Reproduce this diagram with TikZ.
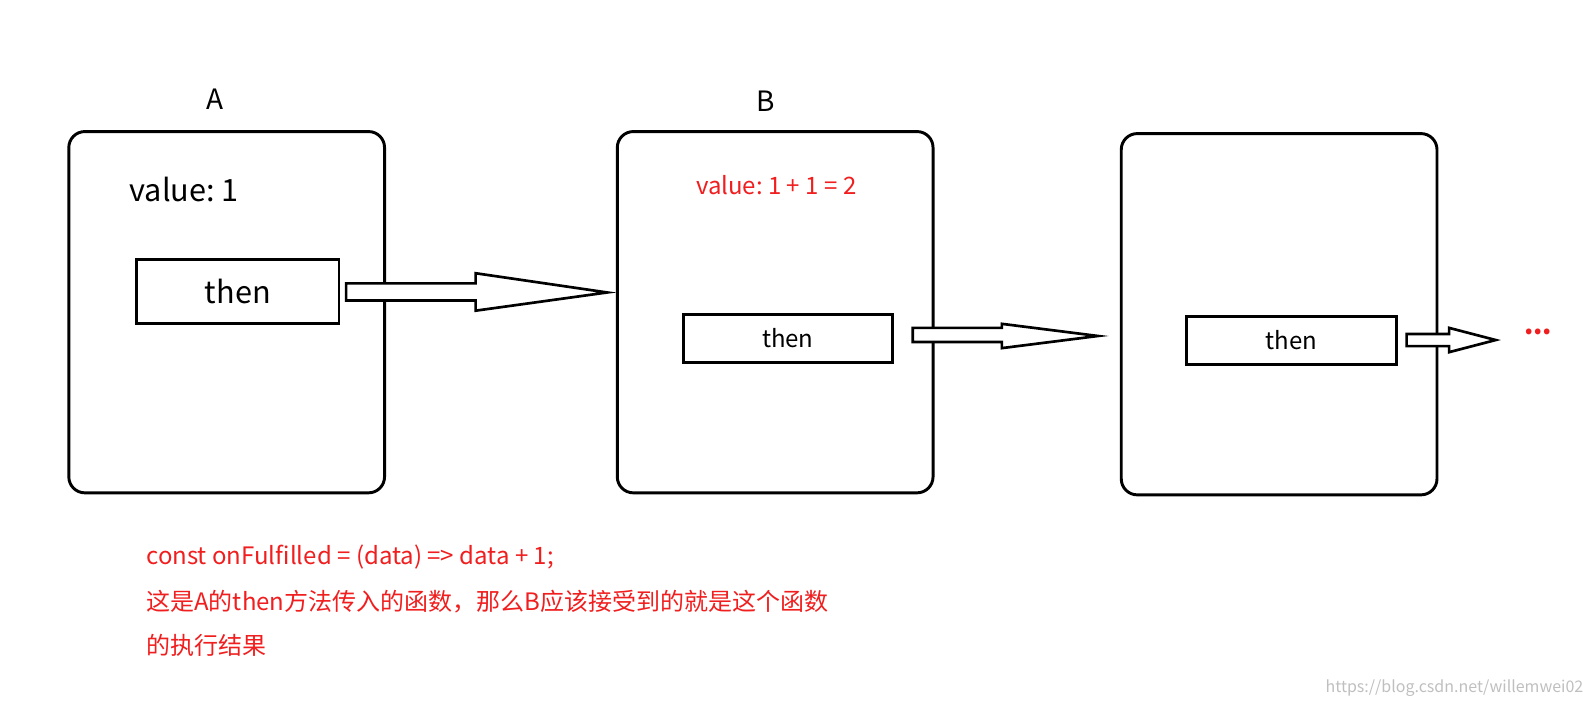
\documentclass[tikz,border=0pt]{standalone}
\usepackage{fontspec}
\setmainfont{Noto Sans CJK SC}
\definecolor{myred}{RGB}{240,30,30}
\begin{document}
\begin{tikzpicture}[x=0.759pt,y=-0.759pt,
  box/.style={draw,line width=2.2pt,rounded corners=12pt},
  thenbox/.style={draw,line width=2.2pt,font=\fontsize{18}{20}\selectfont,inner sep=0pt},
  barrow/.style={draw,line width=2pt,fill=white,line join=miter},
  rtext/.style={text=myred}]
% boxes
\node[box,minimum width=312*0.759pt,minimum height=357*0.759pt] (A) at (224,308.5) {};
\node[box,minimum width=312*0.759pt,minimum height=357*0.759pt] (B) at (766,308.5) {};
\node[box,minimum width=312*0.759pt,minimum height=357*0.759pt] (C) at (1264,310.5) {};
\node[font=\fontsize{21}{24}\selectfont] (la) at (212,98) {A};
\node[font=\fontsize{21}{24}\selectfont] (lb) at (757,100) {B};
\node[font=\fontsize{23}{26}\selectfont] (va) at (182,187) {value:\ 1};
\node[font=\fontsize{18}{20}\selectfont,rtext] (vb) at (767,183) {value:\ 1\ +\ 1\ =\ 2};
% then boxes
\node[thenbox,minimum width=200*0.759pt,minimum height=64*0.759pt,font=\fontsize{23}{26}\selectfont] (ta) at (235,288) {then};
\node[thenbox,minimum width=207*0.759pt,minimum height=47*0.759pt] (tb) at (778.5,334.5) {then};
\node[thenbox,minimum width=208*0.759pt,minimum height=47*0.759pt] (tc) at (1276,336.5) {then};
% block arrows
\draw[barrow] (342,280) -- (470,280) -- (470,270) -- (600,289) -- (470,307) -- (470,297) -- (342,297) -- cycle;
\draw[barrow] (902,324) -- (990,324) -- (990,320) -- (1085,332) -- (990,344) -- (990,338) -- (902,338) -- cycle;
\draw[barrow] (1390,330) -- (1432,330) -- (1432,324) -- (1478,336) -- (1432,348) -- (1432,342) -- (1390,342) -- cycle;
\node[rtext,font=\fontsize{20}{22}\bfseries\selectfont] (dots) at (1520,328) {...};
% notes
\node[rtext,anchor=west,font=\fontsize{18}{20}\selectfont] (n1) at (140,550) {const onFulfilled = (data) => data + 1;};
\node[rtext,anchor=west,font=\fontsize{18}{20}\selectfont] (n2) at (140,594) {这是A的then方法传入的函数，那么B应该接受到的就是这个函数};
\node[rtext,anchor=west,font=\fontsize{18}{20}\selectfont] (n3) at (140,638) {的执行结果};
\node[text=black!25,anchor=east,font=\fontsize{12}{14}\selectfont] (wm) at (1578,680) {https://blog.csdn.net/willemwei023};
\pgfresetboundingbox
\useasboundingbox (0,0) rectangle (1583*0.75/0.759,704*0.75/0.759);
\end{tikzpicture}
\end{document}
